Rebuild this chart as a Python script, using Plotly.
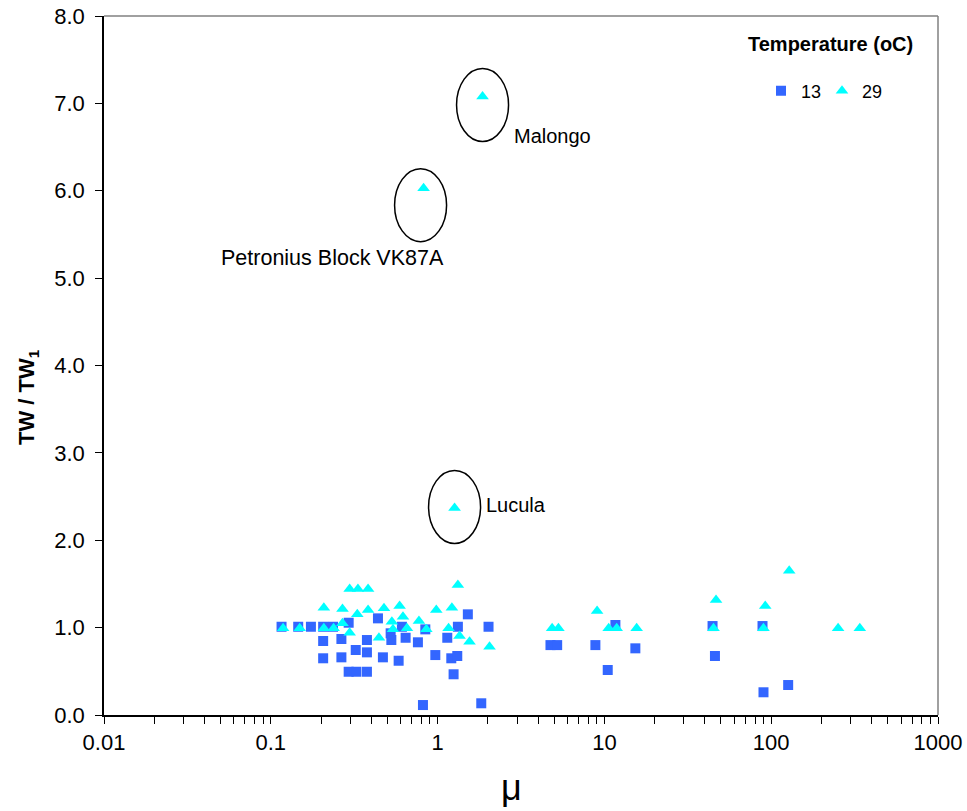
import numpy as np
import plotly.graph_objects as go

# Temperature 13 oC (squares)
mu_13 = [0.116, 0.146, 0.174, 0.206, 0.236, 0.293, 0.439, 0.206, 0.265, 0.377,
         0.323, 0.377, 0.206, 0.265, 0.293, 0.326, 0.377, 1.518, 0.611, 0.844,
         1.323, 2.02, 0.523, 0.528, 0.643, 0.762, 1.143, 0.47, 0.584, 0.969,
         1.208, 1.312, 1.247, 0.817, 1.827, 11.64, 4.75, 5.21, 8.83, 15.33,
         10.47, 44.5, 88.7, 46.0, 126.4, 89.9]
tw_13 = [1.01, 1.01, 1.01, 1.01, 1.01, 1.056, 1.106, 0.847, 0.87, 0.858,
         0.744, 0.717, 0.649, 0.66, 0.495, 0.495, 0.495, 1.152, 1.01, 0.98,
         1.01, 1.01, 0.935, 0.858, 0.884, 0.832, 0.884, 0.66, 0.621, 0.686,
         0.649, 0.675, 0.466, 0.114, 0.134, 1.03, 0.80, 0.80, 0.80, 0.763,
         0.515, 1.018, 1.018, 0.675, 0.343, 0.26]

# Temperature 29 oC (triangles)
mu_29 = [0.297, 0.333, 0.383, 0.208, 0.269, 0.383, 0.330, 0.477, 0.1185, 0.149,
         0.208, 0.238, 0.269, 0.297, 0.445, 1.323, 0.592, 0.620, 0.982, 1.218,
         0.532, 0.773, 0.540, 0.655, 0.856, 1.164, 1.354, 1.554, 2.048, 9.04,
         4.86, 5.30, 10.61, 11.85, 15.61, 128.2, 46.7, 92.1, 45.1, 89.9,
         251.8, 339.8, 1.86, 0.824, 1.264]
tw_29 = [1.442, 1.442, 1.442, 1.228, 1.213, 1.201, 1.152, 1.221, 0.992, 0.992,
         0.992, 0.992, 1.049, 0.942, 0.884, 1.487, 1.247, 1.125, 1.201, 1.228,
         1.068, 1.076, 0.98, 0.992, 0.98, 0.992, 0.904, 0.839, 0.781, 1.19,
         0.992, 0.992, 0.992, 0.992, 0.992, 1.651, 1.316, 1.247, 0.992, 0.992,
         0.992, 0.992, 7.08, 6.03, 2.37]

# Labelled outliers
label_names = ["Malongo", "Petronius Block VK87A", "Lucula"]
label_mu = [1.86, 0.824, 1.264]
label_tw = [7.08, 6.03, 2.37]

x_tickvals = [0.01, 0.1, 1, 10, 100, 1000]
x_ticktext = ["0.01", "0.1", "1", "10", "100", "1000"]

FONT = "Liberation Sans, Arial, sans-serif"

W, H = 967, 811
ML, MR, MT, MB = 104, 29, 16, 96
PW, PH = W - ML - MR, H - MT - MB
X_DECADES = 5.0
Y_SPAN = 8.0
px_dec = PW / X_DECADES
px_unit = PH / Y_SPAN


def px(xp):
    return (xp - ML) / PW


def py(yp):
    return (H - MB - yp) / PH


fig = go.Figure()
fig.add_trace(go.Scatter(
    x=mu_13, y=tw_13, mode="markers", name="13",
    marker=dict(symbol="square", size=10, color="#3366FF"),
))
fig.add_trace(go.Scatter(
    x=mu_29, y=tw_29, mode="markers", name="29",
    marker=dict(symbol="triangle-up", size=11, color="#00FFFF"),
))

# ellipse centre offsets in pixels (dx right, dy up), semi-axes in pixels
ell = [(0, -8.5), (-3, -17), (0, 1)]
ea, eb = 26, 36.5
txt = [dict(xanchor="left", xshift=29, yshift=-40, size=20),
       dict(xanchor="center", xshift=-91, yshift=-70, size=21.5),
       dict(xanchor="left", xshift=29, yshift=3, size=20)]

shapes = []
annotations = []
for name, mx, ty, (dx, dy), t in zip(label_names, label_mu, label_tw, ell, txt):
    shapes.append(dict(
        type="circle", xref="x", yref="y",
        x0=mx * 10 ** ((dx - ea) / px_dec), x1=mx * 10 ** ((dx + ea) / px_dec),
        y0=ty + (dy - eb) / px_unit, y1=ty + (dy + eb) / px_unit,
        line=dict(color="black", width=1.5),
    ))
    annotations.append(dict(
        x=float(np.log10(mx)), y=ty, xref="x", yref="y", text=name, showarrow=False,
        yanchor="middle", xanchor=t["xanchor"], xshift=t["xshift"], yshift=t["yshift"],
        font=dict(family=FONT, size=t["size"], color="black"),
    ))

# plot-area border (top and right)
shapes.append(dict(type="line", xref="paper", yref="paper", x0=0, x1=1, y0=1, y1=1,
                   line=dict(color="#808080", width=1.5)))
shapes.append(dict(type="line", xref="paper", yref="paper", x0=1, x1=1, y0=0, y1=1,
                   line=dict(color="#808080", width=1.5)))

# legend title
annotations.append(dict(
    x=px(830), y=py(44), xref="paper", yref="paper",
    text="<b>Temperature (oC)</b>", showarrow=False, xanchor="center", yanchor="middle",
    font=dict(family=FONT, size=20, color="black"),
))
# axis titles
annotations.append(dict(
    x=px(28), y=py(397), xref="paper", yref="paper", textangle=-90,
    text="<b>TW / TW<sub>1</sub></b>", showarrow=False, xanchor="center", yanchor="middle",
    font=dict(family=FONT, size=22, color="black"),
))
annotations.append(dict(
    x=px(511), y=py(787), xref="paper", yref="paper",
    text="μ", showarrow=False, xanchor="center", yanchor="middle",
    font=dict(family=FONT, size=36, color="black"),
))

fig.update_layout(
    width=W, height=H,
    margin=dict(l=ML, r=MR, t=MT, b=MB, autoexpand=False),
    paper_bgcolor="white", plot_bgcolor="white",
    font=dict(family=FONT, size=20, color="black"),
    showlegend=True,
    legend=dict(orientation="h", x=px(761), y=py(91),
                xanchor="left", yanchor="middle", font=dict(family=FONT, size=18),
                entrywidth=16, entrywidthmode="pixels",
                bgcolor="rgba(0,0,0,0)"),
    shapes=shapes,
    annotations=annotations,
    xaxis=dict(
        type="log", range=[-2, 3], tickvals=x_tickvals, ticktext=x_ticktext,
        automargin=False,
        showgrid=False, zeroline=False, showline=True, linecolor="black", linewidth=1.5,
        ticks="outside", ticklen=7, tickcolor="black", tickwidth=1.2,
        tickfont=dict(family=FONT, size=22),
        minor=dict(ticks="outside", ticklen=7, tickcolor="black", tickwidth=1, dtick="D1"),
    ),
    yaxis=dict(
        range=[0, 8], dtick=1, tickformat=".1f", automargin=False,
        showgrid=False, zeroline=False, showline=True, linecolor="black", linewidth=1.5,
        ticks="outside", ticklen=7, tickcolor="black", tickwidth=1.2,
        tickfont=dict(family=FONT, size=22), ticklabelstandoff=6,
    ),
)

fig.write_html("out.html")
